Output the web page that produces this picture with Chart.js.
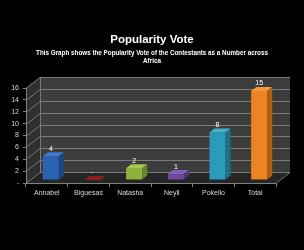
<!DOCTYPE html>
<html><head><meta charset="utf-8">
<script src="https://cdn.jsdelivr.net/npm/chart.js@4"></script>
<style>html,body{margin:0;padding:0;background:#000;} #wrap{width:304px;height:250px;}</style>
</head><body><div id="wrap"><canvas id="c" width="304" height="250"></canvas></div>
<script>
const categories = ['Annabel', 'Biguesas', 'Natasha', 'Neyll', 'Pokello', 'Total'];
const votes = [4, 0, 2, 1, 8, 15];
const yTicks = [0, 2, 4, 6, 8, 10, 12, 14, 16];
const titleText = 'Popularity Vote';
const subtitleLines = ['This Graph shows the Popularity Vote of the Contestants as a Number across', 'Africa'];

const frontColors = ['#2b63b2', '#6e1616', '#8cb23b', '#6a4b9c', '#2a9bb9', '#ec8424'];
const sideColors  = ['#1c467f', '#4a0e0e', '#68862a', '#4d3673', '#1d7189', '#b05f14'];
const topColors   = ['#4079c9', '#8a2020', '#a4c955', '#8062b2', '#45b3cf', '#f59a3b'];

const DX = 14, DY = -11;   // wall depth
const BX = 4, BY = -3;     // bar plane offset
const SX = 5, SY = -4;     // bar depth

Chart.defaults.font.family = "'Liberation Sans', Arial, sans-serif";

function poly(ctx, pts, fill) {
  ctx.beginPath();
  ctx.moveTo(pts[0][0], pts[0][1]);
  for (let i = 1; i < pts.length; i++) ctx.lineTo(pts[i][0], pts[i][1]);
  ctx.closePath();
  ctx.fillStyle = fill;
  ctx.fill();
}

const walls = {
  id: 'walls',
  beforeDraw(chart) {
    const ctx = chart.ctx, xs = chart.scales.x, ys = chart.scales.y;
    const L = xs.left, R = xs.right;
    const B = ys.getPixelForValue(0), T = ys.getPixelForValue(16);
    ctx.save();
    poly(ctx, [[L + DX, T + DY], [R + DX, T + DY], [R + DX, B + DY], [L + DX, B + DY]], '#3c3c3c');
    poly(ctx, [[L, T], [L + DX, T + DY], [L + DX, B + DY], [L, B]], '#2f2f2f');
    poly(ctx, [[L, B], [R, B], [R + DX, B + DY], [L + DX, B + DY]], '#262626');
    ctx.strokeStyle = '#7a7a7a';
    ctx.lineWidth = 1;
    yTicks.forEach(v => {
      const py = Math.round(ys.getPixelForValue(v)) + 0.5;
      ctx.beginPath();
      ctx.moveTo(L, py); ctx.lineTo(L + DX, py + DY); ctx.lineTo(R + DX, py + DY);
      ctx.stroke();
    });
    ctx.beginPath();
    ctx.moveTo(L + DX + 0.5, T + DY); ctx.lineTo(L + DX + 0.5, B + DY);
    ctx.moveTo(R, B + 0.5); ctx.lineTo(R + DX, B + DY + 0.5);
    ctx.stroke();
    ctx.restore();
  },
  beforeDatasetsDraw(chart) {
    chart.ctx.save();
    chart.ctx.translate(BX, BY);
  },
  afterDatasetsDraw(chart) {
    const ctx = chart.ctx;
    ctx.restore();
    const meta = chart.getDatasetMeta(0);
    ctx.save();
    meta.data.forEach((bar, i) => {
      const p = bar.getProps(['x', 'y', 'base', 'width'], true);
      const l = p.x - p.width / 2 + BX, r = p.x + p.width / 2 + BX;
      const t = p.y + BY, b = p.base + BY;
      poly(ctx, [[l, t], [r, t], [r + SX, t + SY], [l + SX, t + SY]], topColors[i]);
      poly(ctx, [[r, t], [r + SX, t + SY], [r + SX, b + SY], [r, b]], sideColors[i]);
      ctx.fillStyle = '#ffffff';
      ctx.font = "7px 'Liberation Sans', Arial, sans-serif";
      ctx.textAlign = 'center';
      ctx.textBaseline = 'middle';
      ctx.fillText(votes[i] === 0 ? '-' : String(votes[i]), p.x + BX, t - 7.5);
    });
    ctx.restore();
  }
};

new Chart(document.getElementById('c'), {
  type: 'bar',
  data: {
    labels: categories,
    datasets: [{
      data: votes,
      backgroundColor: frontColors,
      borderWidth: 0,
      categoryPercentage: 1,
      barPercentage: 0.385,
      clip: false
    }]
  },
  options: {
    responsive: false,
    animation: false,
    events: [],
    layout: { padding: 0 },
    plugins: {
      legend: { display: false },
      tooltip: { enabled: false },
      title: {
        display: true,
        text: titleText,
        color: '#ffffff',
        font: { size: 11.5, weight: 'bold', lineHeight: 1.2 },
        padding: { top: 33, bottom: 0 }
      },
      subtitle: {
        display: true,
        text: subtitleLines,
        color: '#ffffff',
        font: { size: 6.3, weight: 'bold', lineHeight: 1.27 },
        padding: { top: 2.2, bottom: 23 }
      }
    },
    scales: {
      x: {
        offset: true,
        grid: { offset: true, drawOnChartArea: false, drawTicks: true, tickLength: 4, color: '#808080' },
        border: { display: true, color: '#808080' },
        ticks: { color: '#d9d9d9', font: { size: 7 }, padding: 2, maxRotation: 0, autoSkip: false },
        afterFit: s => { s.height = 67; }
      },
      y: {
        min: 0, max: 16,
        afterBuildTicks: s => { s.ticks = yTicks.map(v => ({ value: v })); },
        grid: { drawOnChartArea: false, drawTicks: true, tickLength: 3, color: '#808080' },
        border: { display: true, color: '#808080' },
        ticks: { color: '#d9d9d9', font: { size: 7 }, padding: 4, callback: v => v === 0 ? '-' : String(v) },
        afterFit: s => { s.width = 26; }
      },
      yRight: {
        position: 'right',
        min: 0, max: 16,
        grid: { display: false, drawTicks: false },
        border: { display: false },
        ticks: { display: false },
        afterFit: s => { s.width = 28; }
      }
    }
  },
  plugins: [walls]
});
</script>
</body></html>
